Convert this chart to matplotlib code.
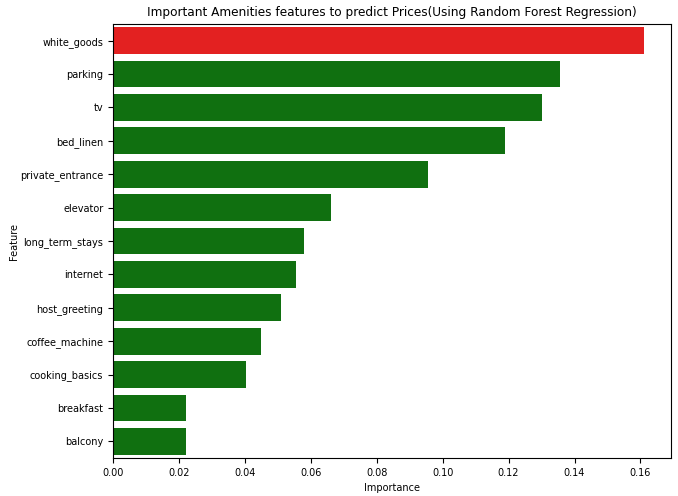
import matplotlib
matplotlib.use("Agg")
import matplotlib.pyplot as plt

# feature importances
features = ['white_goods', 'parking', 'tv', 'bed_linen', 'private_entrance',
            'elevator', 'long_term_stays', 'internet', 'host_greeting',
            'coffee_machine', 'cooking_basics', 'breakfast', 'balcony']
importance = [0.1612, 0.1355, 0.1300, 0.1190, 0.0955, 0.0660, 0.0579,
              0.0555, 0.0509, 0.0448, 0.0403, 0.0221, 0.0220]

colors = ['#e32121'] + ['#107010'] * (len(features) - 1)

fig = plt.figure(figsize=(6.78, 4.96), dpi=100)
ax = fig.add_axes([113 / 678, 38 / 496, 558 / 678, 434 / 496])

y = list(range(len(features)))
ax.barh(y, importance, height=0.8, color=colors)
ax.set_yticks(y)
ax.set_yticklabels(features, fontsize=7.0)
ax.set_ylim(len(features) - 0.5, -0.5)
ax.set_xlim(0, max(importance) * 1.05)
ax.tick_params(axis='x', labelsize=7.0)
ax.set_xlabel('Importance', fontsize=7.0)
ax.set_ylabel('Feature', fontsize=7.0, labelpad=1)
ax.set_title('Important Amenities features to predict Prices(Using Random Forest Regression)',
             fontsize=8.7)

fig.savefig('out.png', dpi=100)
